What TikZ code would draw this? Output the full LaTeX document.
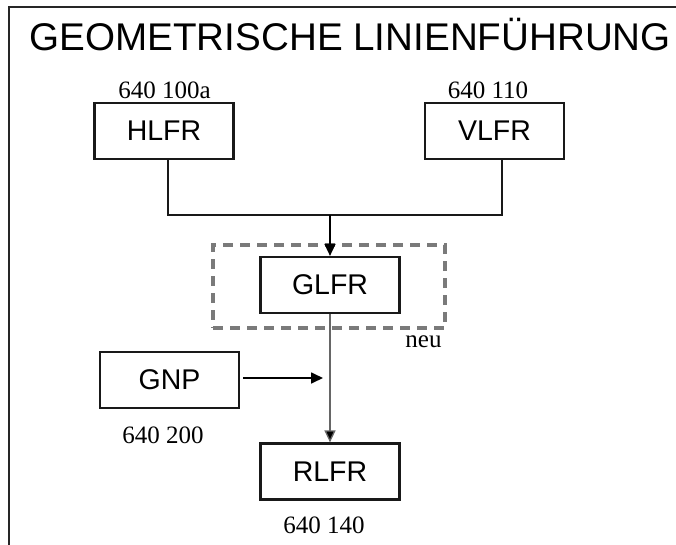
\documentclass[tikz,border=0pt]{standalone}
\usepackage{fontspec}
\setmainfont{Liberation Serif}
\setsansfont{Liberation Sans}
\usetikzlibrary{arrows.meta}
\begin{document}
\begin{tikzpicture}[x=1pt,y=1pt,
  box/.style={draw=black!90,line width=2.2pt,minimum width=139pt,minimum height=56pt,inner sep=0pt,
    font=\sffamily\fontsize{28.5}{30}\selectfont},
  num/.style={font=\fontsize{25}{27}\selectfont,inner sep=0pt,anchor=base},
  conn/.style={line width=2.2pt,draw=black!90},
  tip/.style={-{Triangle[length=12pt,width=11pt,fill=black]}},
  dashbox/.style={draw=black!52,line width=3.2pt,dash pattern=on 10pt off 7pt,inner sep=0pt}]
\useasboundingbox (0,0) rectangle (676,-545);
\draw[line width=2.2pt,draw=black!85] (676,-7) -- (9,-7) -- (9,-545);
\node[anchor=base west,inner sep=0pt,font=\sffamily\fontsize{38.6}{40}\selectfont] (title) at (29.5,-51) {GEOMETRISCHE LINIENFÜHRUNG};

\node[dashbox,minimum width=232pt,minimum height=83pt] (grp) at (329,-286.5) {};

\node[box] (hlfr) at (164,-131) {HLFR};
\node[box] (vlfr) at (494.5,-131) {VLFR};
\node[box] (glfr) at (330,-285) {GLFR};
\node[box] (gnp) at (169.5,-380) {GNP};
\node[box] (rlfr) at (330,-471.5) {RLFR};

\node[num] (n1) at (164.5,-99) {640 100a};
\node[num] (n2) at (488,-99) {640 110};
\node[num] (n3) at (163,-443) {640 200};
\node[num] (n4) at (324,-533) {640 140};
\node[num] (neu) at (423.5,-347) {neu};

\coordinate (j) at (330,-215);
\coordinate (gnpend) at (323,-378);
\draw[conn] ([xshift=4pt]hlfr.south) |- (j) -| ([xshift=7.5pt]vlfr.south);
\draw[line width=1.5pt,tip] (j) -- (glfr.north);
\draw[line width=1.3pt,draw=black!60,tip] (glfr.south) -- (rlfr.north);
\draw[line width=1.7pt,tip] ([shift={(3pt,2pt)}]gnp.east) -- (gnpend);
\end{tikzpicture}
\end{document}
